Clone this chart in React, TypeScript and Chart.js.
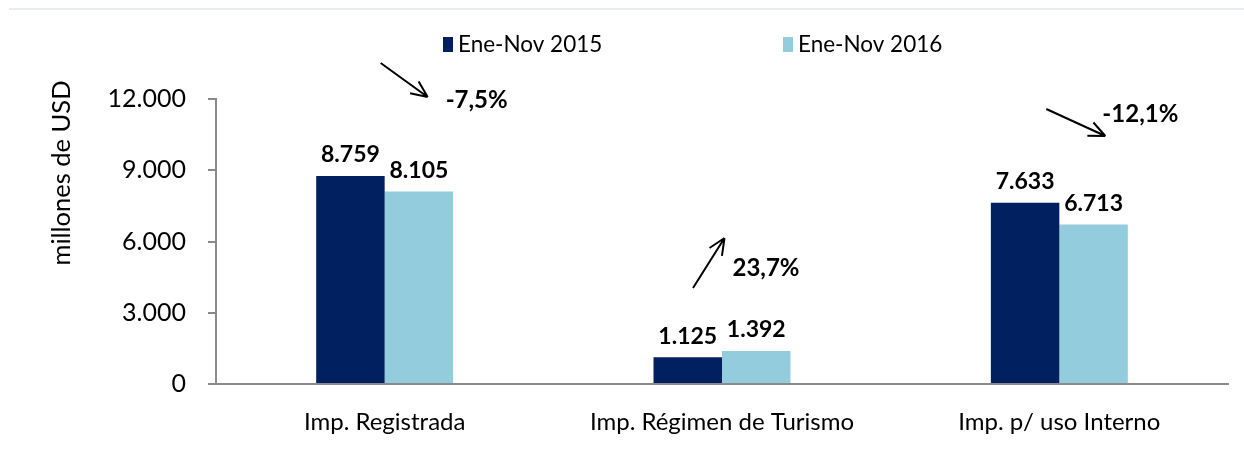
import React, { useEffect, useRef } from "react";
import { Chart, registerables } from "chart.js";

Chart.register(...registerables);

const categories = ["Imp. Registrada", "Imp. Régimen de Turismo", "Imp. p/ uso Interno"];
const seriesNames = ["Ene-Nov 2015", "Ene-Nov 2016"];
const values2015 = [8759, 1125, 7633];
const values2016 = [8105, 1392, 6713];
const changeLabels = ["-7,5%", "23,7%", "-12,1%"];
const yTicks = [0, 3000, 6000, 9000, 12000];
const axisTitle = "millones de USD";

const DARK = "#002060";
const LIGHT = "#93CDDD";
const AXIS = "#8a8a8a";
const FONT = "Lato, 'Open Sans', sans-serif";

const fmt = (v: number) => v.toLocaleString("de-DE");

const decorPlugin = {
  id: "decor",
  afterDraw(chart: any) {
    const ctx = chart.ctx;
    const area = chart.chartArea;
    const xs = chart.scales.x;
    ctx.save();
    // top rule
    ctx.strokeStyle = "#dde5ec";
    ctx.lineWidth = 1.5;
    ctx.beginPath();
    ctx.moveTo(9, 9);
    ctx.lineTo(chart.width, 9);
    ctx.stroke();

    // legend
    const legendX = [443, 783];
    const colors = [DARK, LIGHT];
    ctx.font = `22.5px ${FONT}`;
    ctx.textBaseline = "middle";
    ctx.textAlign = "left";
    seriesNames.forEach((n, i) => {
      ctx.fillStyle = colors[i];
      ctx.fillRect(legendX[i], 37, 10, 15);
      ctx.fillStyle = "#000";
      ctx.fillText(n, legendX[i] + 15, 45);
    });

    // axis title
    ctx.save();
    ctx.translate(62, 173);
    ctx.rotate(-Math.PI / 2);
    ctx.font = `25.5px ${FONT}`;
    ctx.textAlign = "center";
    ctx.textBaseline = "middle";
    ctx.fillStyle = "#000";
    ctx.fillText(axisTitle, 0, 0);
    ctx.restore();

    // data labels
    ctx.font = `bold 23px ${FONT}`;
    ctx.textAlign = "center";
    ctx.textBaseline = "middle";
    ctx.fillStyle = "#000";
    chart.data.datasets.forEach((ds: any, di: number) => {
      const meta = chart.getDatasetMeta(di);
      meta.data.forEach((el: any, i: number) => {
        ctx.fillText(fmt(ds.data[i]), el.x, el.y - 21);
      });
    });

    // arrows + change labels (offsets relative to category centre / chart top)
    const arrows = [
      { s: [-4, -36], e: [43, -2], t: [92, 1] },
      { s: [-29, 189], e: [2.5, 139], t: [44, 169] },
      { s: [-13, 10], e: [46, 37], t: [81, 15] },
    ];
    ctx.font = `bold 24px ${FONT}`;
    ctx.strokeStyle = "#000";
    ctx.lineWidth = 2;
    arrows.forEach((a, i) => {
      const c = xs.getPixelForValue(i);
      const x1 = c + a.s[0], y1 = area.top + a.s[1];
      const x2 = c + a.e[0], y2 = area.top + a.e[1];
      ctx.beginPath();
      ctx.moveTo(x1, y1);
      ctx.lineTo(x2, y2);
      const ang = Math.atan2(y2 - y1, x2 - x1);
      const hl = 18, spread = 0.42;
      ctx.moveTo(x2, y2);
      ctx.lineTo(x2 - hl * Math.cos(ang - spread), y2 - hl * Math.sin(ang - spread));
      ctx.moveTo(x2, y2);
      ctx.lineTo(x2 - hl * Math.cos(ang + spread), y2 - hl * Math.sin(ang + spread));
      ctx.stroke();
      ctx.fillText(changeLabels[i], c + a.t[0], area.top + a.t[1]);
    });
    ctx.restore();
  },
};

export default function App() {
  const ref = useRef<HTMLCanvasElement | null>(null);
  useEffect(() => {
    document.body.style.margin = "0";
    const chart = new Chart(ref.current as HTMLCanvasElement, {
      type: "bar",
      data: {
        labels: categories,
        datasets: [
          { label: seriesNames[0], data: values2015, backgroundColor: DARK },
          { label: seriesNames[1], data: values2016, backgroundColor: LIGHT },
        ],
      },
      options: {
        responsive: false,
        animation: false,
        layout: { padding: { top: 99, right: 16, left: 0, bottom: 0 } },
        datasets: { bar: { barPercentage: 1, categoryPercentage: 0.406 } },
        plugins: { legend: { display: false }, tooltip: { enabled: false } },
        scales: {
          x: {
            afterFit: (s: any) => { s.height = 67; },
            grid: { display: true, drawOnChartArea: false, drawTicks: false, color: AXIS },
            border: { display: true, color: AXIS, width: 2 },
            ticks: { color: "#000", font: { family: FONT, size: 24 }, padding: 24, maxRotation: 0 },
          },
          y: {
            min: 0,
            max: 12000,
            afterFit: (s: any) => { s.width = 216; },
            afterBuildTicks: (s: any) => { s.ticks = yTicks.map((v) => ({ value: v })); },
            grid: { drawOnChartArea: false, drawTicks: true, tickLength: 8, color: AXIS, lineWidth: 2 },
            border: { display: true, color: AXIS, width: 2 },
            ticks: { color: "#000", font: { family: FONT, size: 25 }, padding: 22, callback: (v: any) => fmt(Number(v)) },
          },
        },
      },
      plugins: [decorPlugin],
    } as any);
    return () => chart.destroy();
  }, []);
  return <canvas ref={ref} width={1244} height={451} style={{ display: "block" }} />;
}
